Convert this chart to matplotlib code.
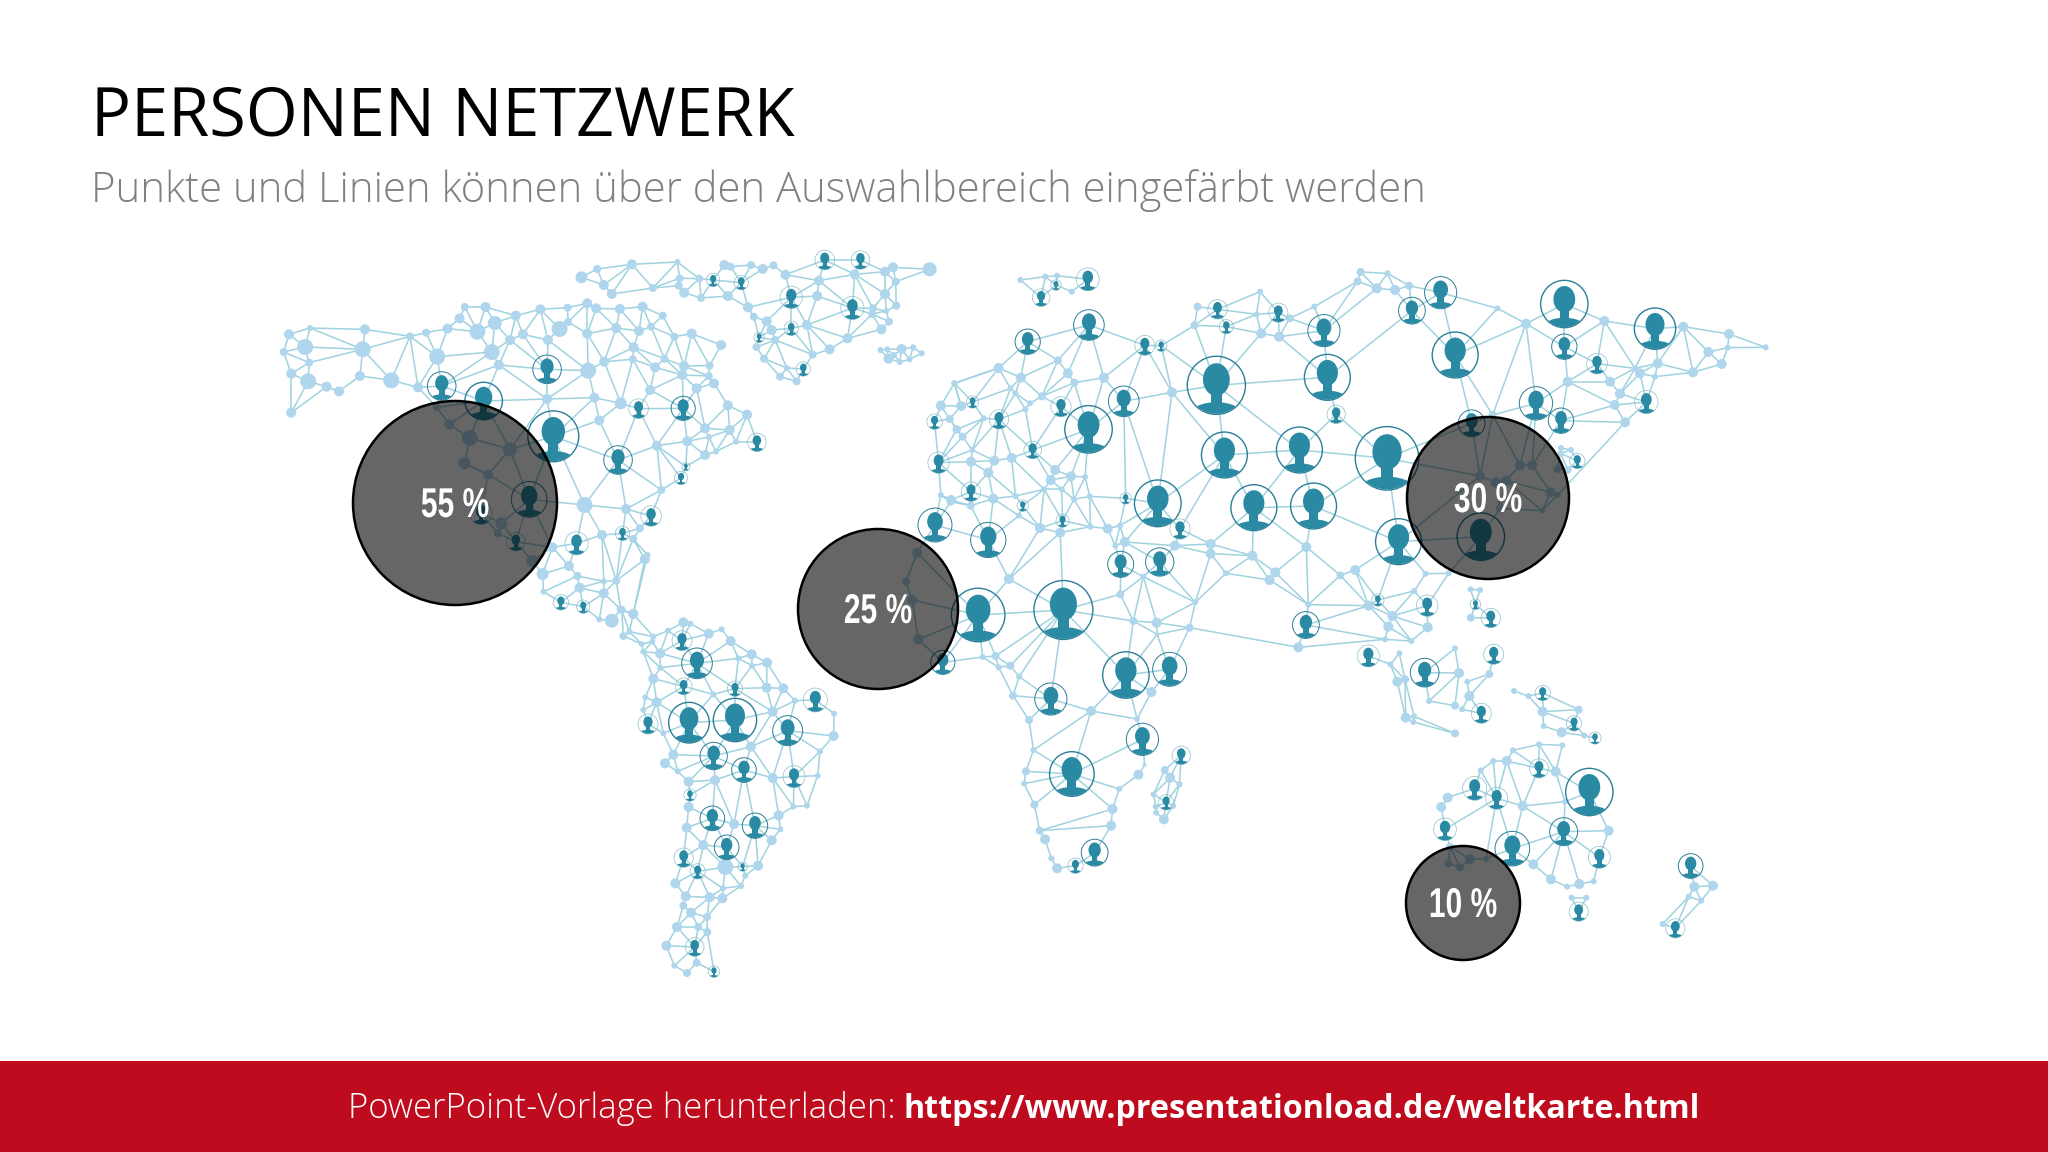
import matplotlib
matplotlib.use('Agg')
from matplotlib import pyplot as plt
from matplotlib.patches import Circle, Ellipse, Rectangle
from matplotlib.patheffects import AbstractPathEffect
from matplotlib.transforms import Affine2D
from matplotlib.tri import Triangulation
import numpy as np

TITLE = 'PERSONEN NETZWERK'
SUBTITLE = 'Punkte und Linien können über den Auswahlbereich eingefärbt werden'
FOOTER = 'PowerPoint-Vorlage herunterladen:'
FOOTER_LINK = 'https://www.presentationload.de/weltkarte.html'

# share bubbles: label, x, y, radius
SHARES = ['55 %', '25 %', '30 %', '10 %']
SHARE_X = [455, 878, 1488, 1463]
SHARE_Y = [503, 609, 498, 903]
SHARE_R = [102, 80, 81, 57]

# map points were read off zoomed crops, so each block has its own crop origin
# nodes: x, y and radius in pixels; persons: x, y, ring radius in crop units
NA_CROP = (260, 240, 2.24, 3)
NA_NODES = [
    (65, 283, 5), (112, 264, 3), (235, 268, 5), (336, 289, 4), (372, 278, 4), (420, 266, 5), (447, 235, 5),
    (459, 201, 4), (505, 201, 5), (526, 249, 7), (487, 275, 8), (573, 227, 5), (628, 208, 5), (689, 203, 4),
    (733, 190, 5), (753, 205, 5), (806, 207, 5), (857, 200, 5), (902, 227, 4), (967, 281, 5), (1033, 315, 5),
    (671, 267, 8), (690, 246, 4), (560, 300, 5), (589, 283, 5), (645, 300, 5), (733, 281, 5), (798, 264, 5),
    (849, 273, 5), (876, 260, 4), (928, 290, 4), (837, 322, 5), (835, 358, 4), (771, 365, 5), (735, 392, 8),
    (535, 375, 5), (519, 336, 8), (397, 350, 8), (230, 328, 8), (101, 321, 8), (53, 336, 4), (110, 368, 4),
    (70, 401, 5), (108, 424, 8), (149, 440, 5), (177, 454, 5), (224, 408, 5), (294, 421, 8), (354, 442, 5),
    (70, 518, 5), (643, 477, 5), (749, 473, 5), (808, 490, 6), (885, 382, 5), (906, 356, 4), (950, 378, 5),
    (1007, 377, 4), (946, 405, 5), (1005, 408, 4), (1017, 430, 5), (978, 445, 5), (874, 450, 5), (1048, 496, 5),
    (1091, 524, 5), (997, 565, 5), (1052, 570, 5), (1066, 605, 3), (760, 541, 5), (889, 617, 5), (957, 604, 5),
    (1006, 591, 3), (997, 645, 5), (1021, 635, 3), (899, 750, 4), (727, 795, 8), (820, 807, 5), (766, 885, 5),
    (851, 865, 4), (836, 897, 4), (862, 958, 5), (868, 945, 3), (396, 502, 4), (424, 553, 5), (470, 594, 8),
    (560, 628, 7), (458, 670, 6), (511, 704, 5), (541, 850, 6), (533, 880, 4), (610, 963, 6), (655, 922, 5),
    (692, 978, 5), (711, 1008, 4), (633, 1002, 6), (635, 1055, 3), (716, 1043, 5), (770, 1060, 5), (798, 1022, 4),
    (770, 1024, 3), (808, 1108, 4), (836, 1122, 5), (788, 1142, 7), (760, 1138, 3),
]
NA_PERSONS = [
    (407, 438, 32), (501, 483, 42), (643, 388, 32), (657, 589, 57), (802, 660, 32), (848, 506, 22), (948, 505, 27),
    (1113, 607, 18), (943, 714, 13), (954, 680, 8), (876, 828, 20), (812, 880, 14), (709, 910, 26), (603, 778, 40),
    (495, 820, 25), (573, 905, 18), (674, 1087, 15), (724, 1100, 13),
]

ARCTIC_NODES = [
    (720, 112, 6), (755, 87, 4), (833, 73, 5), (935, 66, 3), (1040, 75, 5), (1054, 80, 4), (1100, 75, 4), (1126, 87, 5),
    (1150, 76, 4), (770, 135, 5), (788, 162, 5), (880, 144, 4), (940, 115, 4), (938, 137, 4), (984, 116, 4),
    (950, 158, 5), (988, 174, 4), (1048, 168, 5), (1093, 202, 5), (1106, 230, 4), (1135, 244, 5), (1146, 270, 5),
    (1154, 300, 4), (1112, 321, 4), (1129, 356, 4), (1180, 384, 3), (1165, 410, 4), (1202, 424, 4), (1238, 344, 4),
    (1276, 328, 5), (1316, 295, 5), (1392, 268, 5), (1409, 245, 4), (1403, 213, 3), (1425, 197, 4), (1373, 205, 4),
    (1371, 222, 4), (1400, 162, 5), (1424, 125, 4), (1400, 95, 5), (1418, 82, 5), (1332, 103, 5), (1252, 122, 5),
    (1177, 104, 5), (1248, 168, 5), (1225, 255, 5), (1500, 88, 7),
]
ARCTIC_PERSONS = [
    (1265, 60, 22), (1345, 60, 18), (1015, 120, 13), (1078, 128, 14), (1190, 172, 25), (1327, 204, 26), (1190, 265, 14),
    (1118, 292, 10), (1217, 387, 14),
]
ICELAND_NODES = [
    (1390, 330, 3), (1405, 328, 3), (1437, 327, 5), (1463, 322, 3), (1482, 340, 3), (1408, 356, 5), (1433, 366, 3),
    (1455, 358, 3), (1420, 345, 3),
]
WEST_EUROPE_NODES = [
    (1555, 430, 3), (1525, 497, 5), (1545, 537, 4), (1560, 568, 4), (1548, 780, 5), (1525, 765, 3),
    (1472, 938, 5), (1447, 1025, 4), (1461, 1080, 5),
]
WEST_EUROPE_PERSONS = [(1511, 545, 15), (1520, 668, 24), (1512, 855, 38)]

SA_CROP = (620, 600, 3, 3)
SA_NODES = [
    (190, 67, 5), (211, 71, 3), (144, 92, 3), (266, 101, 5), (305, 88, 3), (332, 123, 5), (120, 160, 5), (121, 203, 3),
    (100, 236, 5), (395, 163, 5), (441, 188, 5), (396, 197, 3), (355, 175, 3), (440, 263, 5), (490, 265, 5), (280, 283, 3),
    (76, 292, 3), (110, 307, 5), (70, 330, 3), (458, 335, 5), (525, 302, 3), (642, 341, 3), (641, 408, 5), (600, 454, 3),
    (593, 527, 3), (130, 400, 3), (393, 440, 5), (160, 464, 5), (135, 490, 5), (173, 514, 3), (206, 545, 5), (285, 540, 5),
    (458, 534, 5), (520, 620, 3), (561, 617, 3), (206, 621, 5), (342, 672, 5), (476, 646, 5), (481, 688, 3), (455, 721, 5),
    (200, 683, 5), (250, 735, 5), (316, 801, 8), (414, 797, 5), (376, 827, 3), (363, 858, 3), (309, 865, 3), (307, 895, 5),
    (269, 892, 5), (166, 850, 5), (197, 889, 5), (190, 917, 4), (213, 938, 5), (261, 951, 4), (171, 981, 5), (235, 981, 4),
    (262, 996, 4), (139, 1037, 5), (163, 1097, 3), (230, 1088, 4), (201, 1119, 4),
    (40, 42, 5), (5, 30, 4), (10, 108, 4), (28, 95, 3), (65, 132, 3), (70, 155, 3), (100, 110, 3), (97, 125, 3),
]
SA_PERSONS = [
    (186, 122, 26), (231, 190, 46), (191, 259, 22), (345, 266, 20), (586, 300, 36), (207, 368, 61), (345, 360, 65),
    (503, 392, 45), (84, 372, 30), (281, 468, 41), (372, 510, 37), (522, 530, 33), (210, 585, 16), (277, 655, 37),
    (405, 677, 38), (320, 742, 37), (191, 773, 29), (233, 814, 20), (368, 800, 12), (224, 1041, 28), (282, 1115, 15),
]

AFRICA_CROP = (600, 600, 2.24, 3)
AFRICA_NODES = [
    (857, 171, 3), (886, 168, 4), (893, 202, 3), (919, 197, 4), (939, 230, 3), (925, 287, 4), (961, 360, 4), (971, 450, 3),
    (954, 514, 4), (950, 551, 3), (973, 614, 4), (985, 692, 4), (997, 718, 5), (1011, 775, 3), (1024, 805, 5), (1148, 627, 5),
    (1145, 677, 5), (1163, 567, 3), (1206, 524, 5), (1220, 495, 2), (1235, 276, 5), (1203, 357, 3), (1100, 333, 5),
    (1248, 103, 2), (713, 118, 5),
]
AFRICA_PERSONS = [
    (847, 45, 60), (1038, 30, 66), (768, 187, 27), (1178, 225, 52), (1276, 208, 38), (1010, 297, 36), (1215, 418, 36),
    (1057, 522, 50), (1108, 758, 30), (1065, 797, 15),
]
MADAGASCAR_NODES = [
    (1265, 510, 4), (1277, 533, 5), (1298, 553, 3), (1240, 583, 3), (1245, 620, 3), (1284, 618, 3), (1246, 638, 3),
    (1263, 658, 5),
]
MADAGASCAR_PERSONS = [(1302, 466, 18), (1268, 607, 15)]

EURASIA_CROP = (950, 240, 2.613, 3)
EURASIA_NODES = [
    (127, 384, 5), (185, 413, 5), (282, 361, 4), (308, 400, 5), (402, 413, 5), (325, 428, 4), (158, 445, 3), (240, 469, 4),
    (209, 490, 3), (171, 460, 3), (197, 508, 3), (12, 430, 3), (29, 498, 5), (88, 535, 3), (18, 568, 4), (33, 590, 4),
    (58, 630, 3), (55, 665, 5), (116, 662, 5), (161, 654, 5), (100, 698, 5), (275, 690, 5), (263, 720, 5), (316, 709, 5),
    (353, 711, 3), (246, 748, 3), (292, 748, 3), (324, 778, 3), (365, 769, 3), (113, 776, 5), (171, 768, 3), (54, 797, 4),
    (2, 785, 4), (180, 827, 3), (235, 864, 5), (288, 878, 5), (367, 860, 3), (412, 866, 5), (444, 857, 3), (457, 906, 5),
    (432, 917, 3), (588, 917, 5), (681, 912, 5), (681, 941, 5), (790, 947, 5), (931, 921, 5), (850, 997, 5), (835, 1020, 5),
    (1059, 990, 5), (1020, 1006, 4), (1243, 1001, 3), (1303, 1000, 3), (721, 1000, 3), (641, 1087, 3), (505, 1010, 3),
    (445, 1063, 4), (154, 1017, 5), (479, 1143, 4), (540, 1148, 5), (626, 1163, 4), (936, 1094, 3), (1094, 1097, 5),
    (1156, 1128, 5), (1213, 1053, 3), (580, 457, 5), (639, 256, 4), (647, 200, 4), (810, 155, 3), (801, 223, 3),
    (813, 280, 5), (860, 290, 5), (888, 235, 4), (952, 200, 3), (1073, 96, 4), (1143, 100, 3), (1065, 124, 4),
    (1115, 145, 5), (1163, 150, 5), (1200, 137, 4),
]
EURASIA_PERSONS = [
    (363, 255, 40), (203, 305, 33), (509, 316, 26), (552, 317, 13), (699, 208, 22), (722, 260, 16), (858, 218, 25),
    (977, 272, 42), (1207, 212, 35), (1282, 158, 42), (1320, 345, 60), (986, 412, 60), (696, 436, 76), (454, 484, 40),
    (362, 568, 62), (1009, 523, 24), (128, 538, 22), (59, 486, 14), (290, 500, 23), (216, 630, 20), (717, 645, 60),
    (913, 630, 60), (1142, 655, 83), (543, 790, 61), (794, 803, 60), (950, 798, 60), (55, 755, 22), (190, 797, 13),
    (459, 775, 13), (100, 900, 46), (294, 842, 15), (601, 867, 23), (446, 973, 34), (548, 966, 37), (1172, 905, 60),
    (1387, 890, 62), (1363, 550, 35), (930, 1155, 35), (1118, 1080, 14), (1247, 1097, 28),
]
SVALBARD_NODES = [(184, 120, 3), (249, 110, 3), (280, 107, 3), (318, 155, 3)]
SVALBARD_PERSONS = [(360, 118, 30), (277, 135, 12), (238, 173, 20)]
PHILIPPINES_NODES = [(1360, 1048, 3), (1385, 1050, 3), (1361, 1133, 4)]
PHILIPPINES_PERSONS = [(1373, 1093, 12), (1413, 1134, 22)]

EAST_CROP = (1300, 240, 3, 3)
EAST_NODES = [
    (592, 205, 3), (678, 251, 5), (913, 243, 5), (1150, 260, 5), (1287, 282, 5), (1283, 323, 3), (1397, 322, 3),
    (1225, 336, 5), (1265, 372, 5), (1179, 397, 5), (1073, 370, 5), (1065, 410, 3), (1020, 400, 5), (1005, 385, 3),
    (930, 425, 5), (803, 425, 5), (960, 461, 5), (944, 495, 5), (975, 547, 5), (578, 525, 4), (752, 757, 5), (773, 765, 3),
    (727, 812, 3), (697, 676, 5), (660, 676, 5), (618, 722, 5), (587, 727, 5), (540, 708, 5), (600, 805, 4),
]
EAST_PERSONS = [(793, 192, 71), (1065, 266, 62), (793, 320, 38), (891, 371, 31), (708, 490, 50), (783, 542, 38), (1039, 486, 35)]
JAPAN_NODES = [(783, 624, 3), (813, 630, 3), (782, 640, 3), (803, 690, 4), (772, 687, 4)]
JAPAN_PERSONS = [(832, 663, 20)]

PACIFIC_CROP = (1250, 620, 3, 3)
SE_ASIA_NODES = [(145, 82, 5), (405, 58, 3), (415, 20, 5), (533, 22, 5), (484, 63, 3)]
SUMATRA_NODES = [(448, 100, 3), (421, 133, 3), (442, 185, 5), (465, 178, 4), (467, 293, 5), (492, 289, 3), (490, 306, 3), (615, 340, 4)]
SUMATRA_PERSONS = [(355, 108, 33)]
BORNEO_NODES = [(615, 85, 3), (627, 159, 5), (537, 243, 3), (615, 257, 4)]
BORNEO_PERSONS = [(524, 158, 43)]
CELEBES_NODES = [(718, 162, 4), (652, 185, 3), (658, 228, 5), (636, 268, 3)]
CELEBES_PERSONS = [(694, 280, 26), (731, 103, 30)]
GUINEA_NODES = [(792, 213, 3), (835, 228, 3), (878, 275, 5), (986, 269, 4), (881, 318, 3), (935, 337, 5), (1003, 347, 3)]
GUINEA_PERSONS = [(878, 219, 20), (972, 310, 20), (1035, 354, 16)]
AUSTRALIA_NODES = [
    (937, 376, 3), (867, 373, 3), (789, 391, 3), (770, 423, 5), (730, 423, 3), (692, 451, 3), (917, 455, 5), (593, 533, 5),
    (574, 561, 5), (818, 558, 5), (945, 545, 3), (1076, 632, 5), (850, 733, 5), (903, 778, 5), (951, 800, 3), (988, 792, 5),
    (1031, 784, 3), (600, 680, 4), (595, 730, 4), (630, 742, 4), (660, 718, 5), (708, 716, 3),
]
AUSTRALIA_PERSONS = [
    (867, 445, 25), (674, 505, 36), (740, 535, 33), (1018, 516, 71), (585, 628, 34), (941, 635, 42), (787, 686, 52), (1048, 712, 33),
]
TASMANIA_NODES = [(965, 833, 3), (1009, 833, 3)]
TASMANIA_PERSONS = [(986, 875, 25)]
NZ_NODES = [(1333, 800, 5), (1389, 797, 5), (1316, 830, 3), (1354, 842, 3), (1238, 912, 3)]
NZ_PERSONS = [(1322, 738, 37), (1276, 925, 25)]

NODE_COLOR = '#afd6ec'
EDGE_COLOR = '#9fd3df'
PERSON_COLOR = '#2b8aa3'
RING_COLOR = '#2c7f98'
RING_COLOR_SMALL = '#8cc0cc'


class Squeeze(AbstractPathEffect):
    """
    Narrow the glyphs around a centre, there is no condensed font to pick.
    """

    def __init__(self, cx, sx):
        super().__init__()
        self.cx = cx
        self.sx = sx

    def draw_path(self, renderer, gc, tpath, affine, rgbFace=None):
        squeeze = Affine2D().translate(-self.cx, 0).scale(self.sx, 1).translate(self.cx, 0)
        renderer.draw_path(gc, tpath, affine + squeeze, rgbFace)


def crop_nodes(nodes, crop):
    x0, y0, sx, sy = crop
    return [(x0 + n[0] / sx, y0 + n[1] / sy, n[2]) for n in nodes]


def crop_persons(persons, crop):
    x0, y0, sx, sy = crop
    return [(x0 + p[0] / sx, y0 + p[1] / sy, p[2] / sx) for p in persons]


def draw_person(ax, x, y, r):
    if r < 9:
        r = r * 1.15
    if r > 12:
        ring = Circle((x, y), r, fill=False, ec=RING_COLOR, lw=1.0 if r > 18 else 0.7, zorder=4)
    else:
        ring = Circle((x, y), r, fill=False, ec=RING_COLOR_SMALL, lw=0.5, zorder=4)
    ax.add_patch(ring)
    clip = Circle((x, y), r * 0.98, transform=ax.transData)
    head = Ellipse((x, y - 0.2 * r), 0.92 * r, 1.12 * r, fc=PERSON_COLOR, ec='none', zorder=4)
    neck = Rectangle((x - 0.2 * r, y + 0.2 * r), 0.4 * r, 0.45 * r, fc=PERSON_COLOR, ec='none', zorder=4)
    body = Ellipse((x, y + 0.98 * r), 1.75 * r, 0.8 * r, fc=PERSON_COLOR, ec='none', zorder=4)
    ax.add_patch(head)
    ax.add_patch(neck)
    ax.add_patch(body)
    body.set_clip_path(clip)


def mesh_edges(x, y, max_len):
    """
    Delaunay edges of one land mass, without long ones and without those that pass close to a third point.
    """
    if len(x) < 3:
        return [(0, 1)]
    keep = []
    for a, b in Triangulation(x, y).edges:
        length = np.hypot(x[a] - x[b], y[a] - y[b])
        if length >= max_len:
            continue
        mx, my = (x[a] + x[b]) / 2, (y[a] + y[b]) / 2
        dist = np.hypot(x - mx, y - my)
        dist[[a, b]] = np.inf
        if dist.min() > 0.8 * length / 2:
            keep.append((a, b))
    return keep


def draw_mesh(ax, nodes, persons, max_len):
    x = np.array([p[0] for p in nodes + persons])
    y = np.array([p[1] for p in nodes + persons])
    for a, b in mesh_edges(x, y, max_len):
        ax.plot([x[a], x[b]], [y[a], y[b]], color=EDGE_COLOR, lw=1.1, zorder=2, solid_capstyle='round')
    r = np.array([n[2] for n in nodes])
    ax.scatter([n[0] for n in nodes], [n[1] for n in nodes], s=(1.44 * r) ** 2, color=NODE_COLOR, linewidths=0, zorder=3)
    for px, py, pr in persons:
        draw_person(ax, px, py, pr)


fig = plt.figure(figsize=(20.48, 11.52), dpi=100)
ax = fig.add_axes([0, 0, 1, 1])
ax.set_xlim(0, 2048)
ax.set_ylim(1152, 0)
ax.axis('off')

eurasia_nodes = (crop_nodes(EURASIA_NODES, EURASIA_CROP) + crop_nodes(EAST_NODES, EAST_CROP)
                 + crop_nodes(AFRICA_NODES, AFRICA_CROP) + crop_nodes(SE_ASIA_NODES, PACIFIC_CROP)
                 + crop_nodes(WEST_EUROPE_NODES, NA_CROP))
eurasia_persons = (crop_persons(EURASIA_PERSONS, EURASIA_CROP) + crop_persons(EAST_PERSONS, EAST_CROP)
                   + crop_persons(AFRICA_PERSONS, AFRICA_CROP) + crop_persons(WEST_EUROPE_PERSONS, NA_CROP))

lands = [
    (crop_nodes(NA_NODES, NA_CROP), crop_persons(NA_PERSONS, NA_CROP), 85),
    (crop_nodes(ARCTIC_NODES, NA_CROP), crop_persons(ARCTIC_PERSONS, NA_CROP), 65),
    (crop_nodes(ICELAND_NODES, NA_CROP), [], 30),
    (crop_nodes(SA_NODES, SA_CROP), crop_persons(SA_PERSONS, SA_CROP), 70),
    (eurasia_nodes, eurasia_persons, 115),
    (crop_nodes(MADAGASCAR_NODES, AFRICA_CROP), crop_persons(MADAGASCAR_PERSONS, AFRICA_CROP), 50),
    (crop_nodes(SVALBARD_NODES, EURASIA_CROP), crop_persons(SVALBARD_PERSONS, EURASIA_CROP), 60),
    (crop_nodes(PHILIPPINES_NODES, EURASIA_CROP), crop_persons(PHILIPPINES_PERSONS, EURASIA_CROP), 50),
    (crop_nodes(JAPAN_NODES, EAST_CROP), crop_persons(JAPAN_PERSONS, EAST_CROP), 30),
    (crop_nodes(SUMATRA_NODES, PACIFIC_CROP), crop_persons(SUMATRA_PERSONS, PACIFIC_CROP), 65),
    (crop_nodes(BORNEO_NODES, PACIFIC_CROP), crop_persons(BORNEO_PERSONS, PACIFIC_CROP), 50),
    (crop_nodes(CELEBES_NODES, PACIFIC_CROP), crop_persons(CELEBES_PERSONS, PACIFIC_CROP), 40),
    (crop_nodes(GUINEA_NODES, PACIFIC_CROP), crop_persons(GUINEA_PERSONS, PACIFIC_CROP), 45),
    (crop_nodes(AUSTRALIA_NODES, PACIFIC_CROP), crop_persons(AUSTRALIA_PERSONS, PACIFIC_CROP), 75),
    (crop_nodes(TASMANIA_NODES, PACIFIC_CROP), crop_persons(TASMANIA_PERSONS, PACIFIC_CROP), 30),
    (crop_nodes(NZ_NODES, PACIFIC_CROP), crop_persons(NZ_PERSONS, PACIFIC_CROP), 50),
]
for nodes, persons, max_len in lands:
    draw_mesh(ax, nodes, persons, max_len)

for label, x, y, r in zip(SHARES, SHARE_X, SHARE_Y, SHARE_R):
    ax.add_patch(Circle((x, y), r, fc=(0, 0, 0, 0.6), ec='black', lw=1.8, zorder=5))
    ax.text(x, y + 3, label, color='white', fontsize=30, fontweight='bold', family='Liberation Sans',
            ha='center', va='center', zorder=6, path_effects=[Squeeze(x, 0.72)])

ax.add_patch(Rectangle((0, 1061), 2048, 91, fc='#be0c1e', ec='none', zorder=1))

ax.text(91, 135, TITLE, fontsize=48, color='black', family='Open Sans', va='baseline', ha='left')
ax.text(91, 202, SUBTITLE, fontsize=30.1, color='#808080', family='Open Sans', fontweight='light', va='baseline', ha='left')
ax.text(348, 1118, FOOTER, fontsize=25, color='white', family='Open Sans', fontweight='light', va='baseline', ha='left')
ax.text(904, 1118, FOOTER_LINK, fontsize=23.2, color='white', family='Open Sans', fontweight='bold', va='baseline', ha='left')

fig.savefig('out.png', dpi=100)
